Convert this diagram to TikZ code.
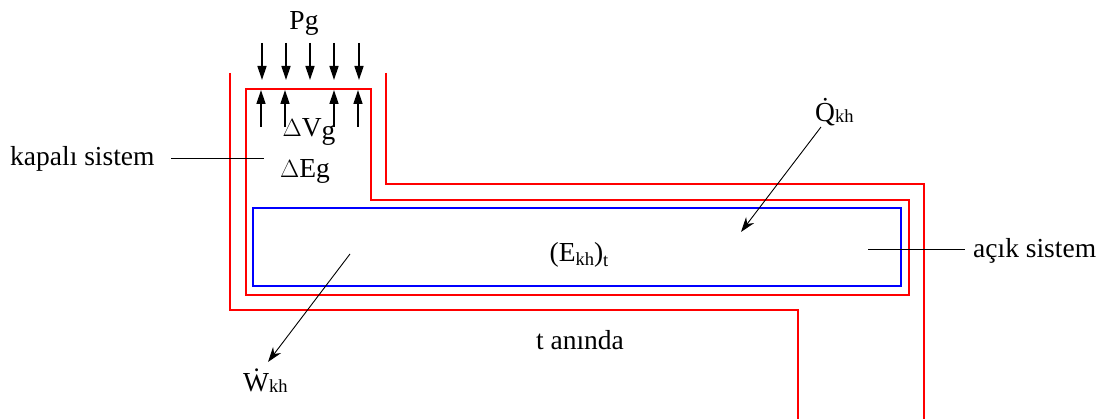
\documentclass[tikz,border=0pt]{standalone}
\usepackage{fontspec}
\setmainfont{Liberation Serif}
\usetikzlibrary{arrows.meta}
\begin{document}
\begin{tikzpicture}[x=1pt,y=-1pt,
  wall/.style={red,line width=1.3pt},
  cv/.style={blue,line width=1.3pt},
  lbl/.style={inner sep=0pt,font=\fontsize{27.5}{32}\selectfont},
  press/.style={black,line width=1.4pt,-{Triangle[length=14pt,width=9pt]}},
  flow/.style={black,line width=0.9pt,-{Stealth[length=15pt,width=10pt]}},
  leader/.style={black,line width=1pt}]
\useasboundingbox (0,0) rectangle (1109,419);
% outer red boundary
\draw[wall] (230,73) -- (230,310) -- (798,310) -- (798,419);
\draw[wall] (386,73) -- (386,184) -- (924,184) -- (924,419);
% inner red closed system
\draw[wall] (246,89) -- (371,89) -- (371,200) -- (909,200) -- (909,295) -- (246,295) -- cycle;
% blue open system
\draw[cv] (253,208) rectangle (901,286);
% labels
\node[lbl,anchor=base] (pg) at (304,30) {Pg};
\node[lbl,anchor=base] (dv) at (309,137) {$\Delta$V\raisebox{-3pt}{g}};
\node[lbl,anchor=base] (de) at (305,178) {$\Delta$Eg};
\node[lbl,anchor=base west] (ks) at (10,166) {kapalı sistem};
\node[lbl,anchor=base west] (as) at (973,258) {açık sistem};
\node[lbl,anchor=base] (ekh) at (579,262) {(E\raisebox{-4pt}{\fontsize{18.5}{20}\selectfont kh})\raisebox{-5pt}{\fontsize{18.5}{20}\selectfont t}};
\node[lbl,anchor=base] (ta) at (580,350) {t anında};
\node[lbl,anchor=base west] (w) at (243,392) {\.{W}\raisebox{-1pt}{\fontsize{18.5}{20}\selectfont kh}};
\node[lbl,anchor=base west] (q) at (815,122) {\.{Q}\raisebox{-1pt}{\fontsize{18.5}{20}\selectfont kh}};
% pressure arrows
\foreach \i/\x in {1/262,2/286,3/310,4/334,5/359}{
  \coordinate (d\i a) at (\x,43);
  \coordinate (d\i b) at (\x,80);
  \draw[press] (d\i a) -- (d\i b);
}
\foreach \i/\x in {1/261,2/285,4/334,5/358}{
  \coordinate (u\i a) at (\x,127);
  \coordinate (u\i b) at (\x,90);
  \draw[press] (u\i a) -- (u\i b);
}
% leaders
\coordinate (ksend) at (264,159);
\draw[leader] (171,159) -- (ksend);
\coordinate (asend) at (868,250);
\draw[leader] (asend) -- (965,250);
% flows
\coordinate (qtip) at (741,232);
\draw[flow] (821,127) -- (qtip);
\coordinate (wstart) at (350,254);
\draw[flow] (wstart) -- (268,362);
\end{tikzpicture}
\end{document}
